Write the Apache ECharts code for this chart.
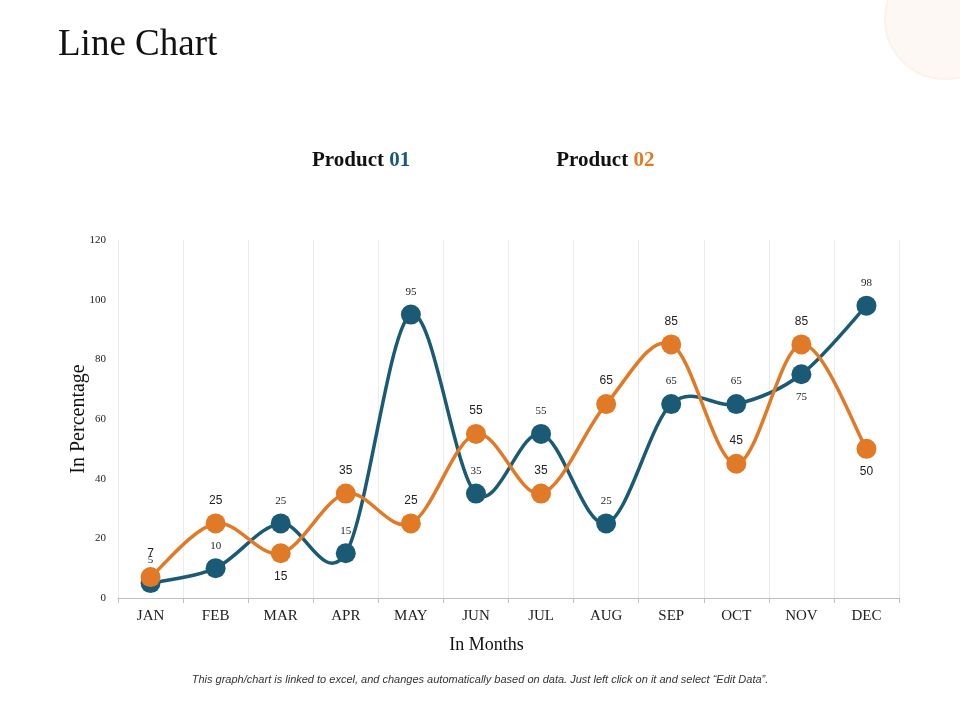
<!DOCTYPE html>
<html lang="en">
	<head>
		<meta charset="utf-8" />
		<title>Line Chart</title>
		<style>
			html, body { margin: 0; padding: 0; background: #fff; }
			#lineChart { width: 960px; height: 720px; }
		</style>
	</head>
	<body>
		<div id="lineChart"></div>

		<script type="text/javascript" src="https://cdn.jsdelivr.net/npm/echarts@6/dist/echarts.min.js"></script>
		<script type="text/javascript">
			// data
			const months = ['JAN', 'FEB', 'MAR', 'APR', 'MAY', 'JUN', 'JUL', 'AUG', 'SEP', 'OCT', 'NOV', 'DEC'];
			const product01 = [5, 10, 25, 15, 95, 35, 55, 25, 65, 65, 75, 98];
			const product02 = [7, 25, 15, 35, 25, 55, 35, 65, 85, 45, 85, 50];
			const yTicks = { min: 0, max: 120, interval: 20 };
			// which labels sit under their point
			const below01 = [10];
			const below02 = [2, 11];

			const teal = '#1b5a74';
			const orange = '#e07a26';
			const serif = '"Liberation Serif", "Times New Roman", serif';
			const sans = '"Liberation Sans", Arial, sans-serif';

			function points(values, below) {
				return values.map(function (v, i) {
					if (below.indexOf(i) >= 0) {
						return { value: v, label: { position: 'bottom' } };
					}
					return v;
				});
			}

			// excel style smoothing (catmull-rom), one bezier per segment
			function curve(name, values, color, z) {
				const last = values.length - 1;
				return {
					name: name,
					type: 'custom',
					silent: true,
					z: z,
					data: values.map(function (v, i) { return [i, v]; }),
					renderItem: function (params, api) {
						const i = params.dataIndex;
						if (i >= last) return null;
						const at = function (k) {
							k = Math.max(0, Math.min(last, k));
							return api.coord([k, values[k]]);
						};
						const p0 = at(i - 1), p1 = at(i), p2 = at(i + 1), p3 = at(i + 2);
						return {
							type: 'bezierCurve',
							shape: {
								x1: p1[0], y1: p1[1],
								x2: p2[0], y2: p2[1],
								cpx1: p1[0] + (p2[0] - p0[0]) / 6,
								cpy1: p1[1] + (p2[1] - p0[1]) / 6,
								cpx2: p2[0] - (p3[0] - p1[0]) / 6,
								cpy2: p2[1] - (p3[1] - p1[1]) / 6
							},
							style: { stroke: color, lineWidth: 3.5, fill: null }
						};
					}
				};
			}

			function markers(name, values, below, color, font, size, z) {
				return {
					name: name,
					type: 'line',
					data: points(values, below),
					symbol: 'circle',
					symbolSize: 20,
					itemStyle: { color: color },
					lineStyle: { width: 0, opacity: 0 },
					label: {
						show: true,
						position: 'top',
						distance: 7,
						fontFamily: font,
						fontSize: size,
						color: '#222'
					},
					z: z
				};
			}

			const chart = echarts.init(document.getElementById('lineChart'));
			const option = {
				animation: false,
				title: [{
					text: 'Line Chart',
					left: 53,
					top: 22,
					textStyle: { fontFamily: serif, fontSize: 37, fontWeight: 'normal', color: '#111' }
				}, {
					text: 'This graph/chart is linked to excel, and changes automatically based on data. Just left click on it and select \u201cEdit Data\u201d.',
					left: 'center',
					top: 669,
					textStyle: { fontFamily: sans, fontSize: 11, fontStyle: 'italic', fontWeight: 'normal', color: '#333' }
				}],
				graphic: [{
					type: 'circle',
					shape: { cx: 945, cy: 19, r: 60 },
					style: { fill: '#fdf8f3', stroke: '#fbf2ec', lineWidth: 2 },
					z: -1
				}],
				legend: {
					data: ['Product 01', 'Product 02'],
					top: 145,
					left: 302,
					icon: 'none',
					itemWidth: 0,
					itemGap: 141,
					selectedMode: false,
					formatter: function (name) {
						const parts = name.split(' ');
						return '{a|' + parts[0] + ' }{' + (parts[1] === '01' ? 'b' : 'c') + '|' + parts[1] + '}';
					},
					textStyle: {
						rich: {
							a: { fontFamily: serif, fontSize: 21, fontWeight: 'bold', color: '#111' },
							b: { fontFamily: serif, fontSize: 21, fontWeight: 'bold', color: teal },
							c: { fontFamily: serif, fontSize: 21, fontWeight: 'bold', color: orange }
						}
					}
				},
				grid: { left: 118, right: 61, top: 240, bottom: 122 },
				xAxis: {
					type: 'category',
					data: months,
					name: 'In Months',
					nameLocation: 'middle',
					nameGap: 38,
					nameTextStyle: { fontFamily: serif, fontSize: 18, color: '#111', padding: [0, 44, 0, 0] },
					axisLine: { lineStyle: { color: '#bfbfbf', width: 1 } },
					axisTick: { show: true, length: 5, lineStyle: { color: '#bfbfbf' } },
					axisLabel: { fontFamily: serif, fontSize: 15, color: '#222', margin: 11 },
					splitLine: { show: true, lineStyle: { color: '#ececec', width: 1 } }
				},
				yAxis: {
					type: 'value',
					min: yTicks.min,
					max: yTicks.max,
					interval: yTicks.interval,
					name: 'In Percentage',
					nameLocation: 'middle',
					nameGap: 29,
					nameMoveOverlap: false,
					nameTextStyle: { fontFamily: serif, fontSize: 20, color: '#111' },
					axisLine: { show: false },
					axisTick: { show: false },
					axisLabel: { fontFamily: serif, fontSize: 11, color: '#222', margin: 12 },
					splitLine: { show: false }
				},
				series: [
					curve('curve01', product01, teal, 2),
					curve('curve02', product02, orange, 3),
					markers('Product 01', product01, below01, teal, serif, 11, 4),
					markers('Product 02', product02, below02, orange, sans, 12, 5)
				]
			};
			chart.setOption(option);

			window.onresize = function () {
				chart.resize();
			};
		</script>
	</body>
</html>
